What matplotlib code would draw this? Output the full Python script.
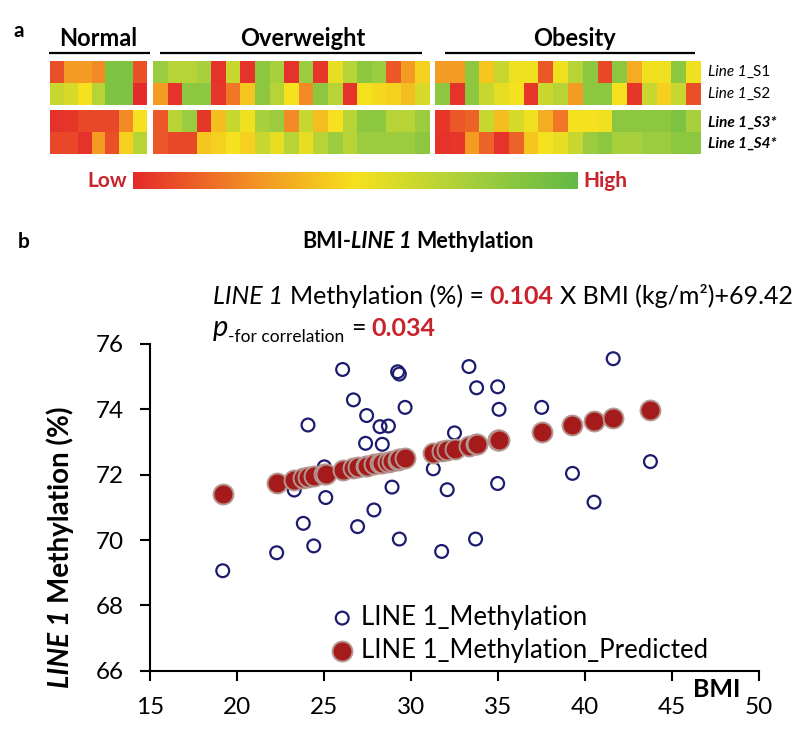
import numpy as np
import matplotlib
matplotlib.use('Agg')
import matplotlib.pyplot as plt
from matplotlib.colors import LinearSegmentedColormap

plt.rcParams['font.family'] = ['Lato', 'DejaVu Sans']

# ---------------- data: heatmap (0 = low, 1 = high) ----------------
group_names = ['Normal', 'Overweight', 'Obesity']
row_names = ['S1', 'S2', 'S3*', 'S4*']

normal_S1 = [0.10, 0.30, 0.30, 0.25, 0.90, 0.90, 0.10]
normal_S2 = [0.65, 0.60, 0.50, 0.70, 0.90, 0.90, 0.00]
normal_S3 = [0.02, 0.03, 0.08, 0.08, 0.08, 0.25, 0.50]
normal_S4 = [0.08, 0.08, 0.02, 0.30, 0.10, 0.45, 0.70]

overweight_S1 = [0.80, 0.70, 0.70, 0.75, 0.02, 0.65, 0.02, 0.85, 0.75, 0.02,
                 0.80, 0.03, 0.55, 0.70, 0.85, 0.80, 0.12, 0.30, 0.45]
overweight_S2 = [0.30, 0.02, 0.85, 0.85, 0.03, 0.20, 0.42, 0.85, 0.70, 0.50,
                 0.25, 0.85, 0.70, 0.02, 0.50, 0.48, 0.45, 0.40, 0.60]
overweight_S3 = [0.12, 0.70, 0.80, 0.03, 0.40, 0.65, 0.52, 0.75, 0.80, 0.25,
                 0.65, 0.40, 0.50, 0.70, 0.85, 0.85, 0.70, 0.70, 0.80]
overweight_S4 = [0.12, 0.08, 0.08, 0.42, 0.45, 0.50, 0.45, 0.65, 0.55, 0.70,
                 0.55, 0.70, 0.80, 0.70, 0.80, 0.80, 0.80, 0.80, 0.85]

obesity_S1 = [0.30, 0.30, 0.85, 0.42, 0.65, 0.52, 0.52, 0.12, 0.52, 0.70,
              0.85, 0.08, 0.85, 0.35, 0.52, 0.52, 0.85, 0.52]
obesity_S2 = [0.85, 0.02, 0.85, 0.65, 0.55, 0.50, 0.03, 0.65, 0.70, 0.30,
              0.85, 0.85, 0.50, 0.03, 0.65, 0.45, 0.65, 0.10]
obesity_S3 = [0.03, 0.12, 0.15, 0.65, 0.40, 0.60, 0.52, 0.35, 0.20, 0.50,
              0.50, 0.52, 0.85, 0.85, 0.85, 0.85, 0.90, 0.75]
obesity_S4 = [0.02, 0.03, 0.30, 0.15, 0.02, 0.15, 0.42, 0.50, 0.55, 0.65,
              0.80, 0.85, 0.75, 0.75, 0.80, 0.80, 0.85, 0.85]

# ---------------- data: scatter ----------------
bmi = [19.18, 22.28, 23.29, 23.81, 24.08, 24.41, 25.02, 25.10, 26.07, 26.69,
       26.93, 27.39, 27.45, 27.87, 28.22, 28.35, 28.70, 28.91, 29.23, 29.33,
       29.33, 29.66, 31.28, 31.76, 32.08, 32.50, 33.33, 33.71, 33.77, 34.98,
       34.98, 35.06, 37.51, 39.28, 40.52, 41.62, 43.76]
methylation = [69.06, 69.61, 71.53, 70.51, 73.52, 69.82, 72.24, 71.30, 75.22, 74.29,
               70.41, 72.96, 73.81, 70.92, 73.47, 72.93, 73.49, 71.62, 75.15, 75.08,
               70.03, 74.06, 72.18, 69.65, 71.54, 73.28, 75.31, 70.03, 74.66, 74.69,
               71.73, 74.00, 74.06, 72.04, 71.16, 75.55, 72.40]
predicted = [71.41, 71.74, 71.84, 71.90, 71.92, 71.96, 72.02, 72.03, 72.13, 72.20,
             72.22, 72.27, 72.27, 72.32, 72.35, 72.37, 72.40, 72.43, 72.46, 72.47,
             72.47, 72.50, 72.67, 72.72, 72.76, 72.80, 72.89, 72.93, 72.93, 73.06,
             73.06, 73.07, 73.32, 73.51, 73.63, 73.75, 73.97]
x_ticks = [15, 20, 25, 30, 35, 40, 45, 50]
y_ticks = [66, 68, 70, 72, 74, 76]

RED_TXT = '#C8232C'

fig = plt.figure(figsize=(8, 7.29), dpi=100)

# ---------------- scatter panel ----------------
ax = fig.add_axes([150 / 800, 58.3 / 729, 609 / 800, 326.7 / 729])
ax.set_facecolor('none')
ax.scatter(bmi, methylation, s=85, facecolors='none', edgecolors='#1C1C6E',
           linewidths=1.6, zorder=2, label='LINE 1_Methylation')
ax.scatter(bmi, predicted, s=205, facecolors='#A51B1B', edgecolors='#B49690',
           linewidths=1.4, zorder=3, label='LINE 1_Methylation_Predicted')
ax.set_xlim(15, 50)
ax.set_ylim(66, 76)
ax.set_xticks(x_ticks)
ax.set_yticks(y_ticks)
for s in ['top', 'right']:
    ax.spines[s].set_visible(False)
for s in ['left', 'bottom']:
    ax.spines[s].set_linewidth(1.5)
ax.tick_params(axis='both', direction='out', length=7, width=1.5, labelsize=17.5, pad=12)
leg = ax.legend(loc='lower left', bbox_to_anchor=(0.2956, 0.025), frameon=False,
                fontsize=18.5, handlelength=0.95, handletextpad=0.25, labelspacing=0.3,
                borderpad=0, borderaxespad=0, scatterpoints=1)

# ---------------- overlay (pixel coordinates) ----------------
ov = fig.add_axes([0, 0, 1, 1])
ov.set_xlim(0, 800)
ov.set_ylim(729, 0)
ov.axis('off')

cmap = LinearSegmentedColormap.from_list(
    'rg', [(0, '#E42A2A'), (0.25, '#F28A25'), (0.5, '#F6E11D'),
           (0.75, '#A9D03C'), (1, '#63B946')])

blocks = [
    ([normal_S1, normal_S2, normal_S3, normal_S4], 50, 147),
    ([overweight_S1, overweight_S2, overweight_S3, overweight_S4], 153, 430),
    ([obesity_S1, obesity_S2, obesity_S3, obesity_S4], 435, 701),
]
for rows, x0, x1 in blocks:
    n = len(rows[0])
    xe = np.linspace(x0, x1, n + 1)
    ov.pcolormesh(xe, [61, 83, 105], np.array(rows[:2]), cmap=cmap, vmin=0, vmax=1)
    ov.pcolormesh(xe, [110, 132, 154], np.array(rows[2:]), cmap=cmap, vmin=0, vmax=1)

# group headers
header_lines = [(49, 150), (160, 422), (445, 695)]
header_cx = [98, 303, 574]
for name, (l0, l1), cx in zip(group_names, header_lines, header_cx):
    ov.plot([l0, l1], [53, 53], color='black', lw=1.6, solid_capstyle='butt')
    ov.text(cx, 46, name, ha='center', va='baseline', fontsize=17, fontweight='bold')

ov.text(14, 37, 'a', fontsize=15, fontweight='bold', va='baseline')
ov.text(18, 248, 'b', fontsize=15, fontweight='bold', va='baseline')

# colour bar
grad = np.linspace(0, 1, 256)[None, :]
ov.imshow(grad, cmap=cmap, aspect='auto', extent=(133, 578, 189, 172))
ov.text(127, 187, 'Low', ha='right', va='baseline', fontsize=15, fontweight='bold', color=RED_TXT)
ov.text(583, 187, 'High', ha='left', va='baseline', fontsize=15, fontweight='bold', color=RED_TXT)

fig.canvas.draw()
R = fig.canvas.get_renderer()


def text_w(s, kw):
    t = ov.text(0, 0, s, **kw)
    w = t.get_window_extent(R).width
    t.remove()
    return w


def rich(x, y, pieces, rotation=0, center=False):
    # pieces: (text, kwargs, dy)
    items = []
    total = 0
    for txt, kw, dy in pieces:
        sp = text_w('x x', kw) - text_w('xx', kw)
        lead = len(txt) - len(txt.lstrip(' '))
        trail = len(txt) - len(txt.rstrip(' '))
        core = txt.strip(' ')
        w = text_w(core, kw)
        items.append((core, kw, dy, lead * sp, w, trail * sp))
        total += lead * sp + w + trail * sp
    pos = (x - total / 2) if center else x
    if rotation:
        pos = (y + total / 2) if center else y
    for core, kw, dy, pre, w, post in items:
        if rotation:
            pos -= pre
            ov.text(x + dy, pos, core, rotation=90, rotation_mode='anchor',
                    ha='left', va='baseline', **kw)
            pos -= w + post
        else:
            pos += pre
            ov.text(pos, y + dy, core, ha='left', va='baseline', **kw)
            pos += w + post


# heatmap row labels
lab_kw = dict(fontsize=11)
rich(708, 76, [('Line 1', dict(fontsize=11, style='italic'), 0), ('_S1', lab_kw, 0)])
rich(708, 98, [('Line 1', dict(fontsize=11, style='italic'), 0), ('_S2', lab_kw, 0)])
rich(708, 127, [('Line 1', dict(fontsize=11, style='italic', fontweight='bold'), 0),
                ('_S3*', dict(fontsize=11, style='italic', fontweight='bold'), 0)])
rich(708, 148, [('Line 1', dict(fontsize=11, style='italic', fontweight='bold'), 0),
                ('_S4*', dict(fontsize=11, style='italic', fontweight='bold'), 0)])

# title of panel b
rich(418, 248, [('BMI-', dict(fontsize=15.5, fontweight='bold'), 0),
                ('LINE 1', dict(fontsize=15.5, fontweight='bold', style='italic'), 0),
                (' Methylation', dict(fontsize=15.5, fontweight='bold'), 0)], center=True)

# regression equation
eq = 18
rich(213, 304, [('LINE 1', dict(fontsize=eq, style='italic'), 0),
                (' Methylation (%) = ', dict(fontsize=eq), 0),
                ('0.104', dict(fontsize=eq, fontweight='bold', color=RED_TXT), 0),
                (' X BMI (kg/m²)+69.42', dict(fontsize=eq), 0)])
rich(213, 336, [('p', dict(fontsize=21, style='italic'), 0),
                ('-for correlation', dict(fontsize=12.5), 6),
                (' = ', dict(fontsize=eq), 0),
                ('0.034', dict(fontsize=18, fontweight='bold', color=RED_TXT), 0)])

# y label (rotated)
rich(69, 547, [('LINE 1', dict(fontsize=20, fontweight='bold', style='italic'), 0),
               (' Methylation (%)', dict(fontsize=20, fontweight='bold'), 0)],
     rotation=90, center=True)

# x label
ov.text(717, 697, 'BMI', ha='center', va='baseline', fontsize=18, fontweight='bold')

fig.savefig('out.png', dpi=100)
